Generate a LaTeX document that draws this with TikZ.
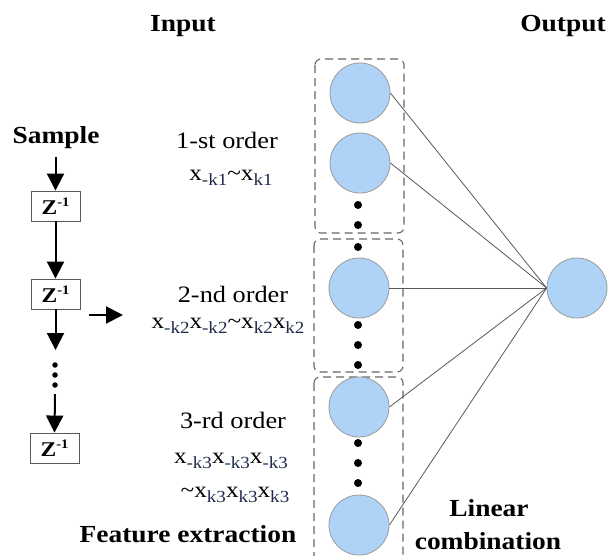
\documentclass[tikz,border=0pt]{standalone}
\usepackage{fontspec}
\setmainfont{Liberation Serif}[FakeStretch=1.12]
\usetikzlibrary{arrows.meta}
\definecolor{nodefill}{HTML}{AED3F7}
\definecolor{nodeline}{HTML}{9A9A9A}
\definecolor{subc}{HTML}{1E2A4A}
\newcommand\mysb[1]{\raisebox{-5pt}{\fontsize{17}{17}\selectfont\color{subc}#1}}
\newcommand\myzinv{\textbf{Z}\raisebox{8pt}{\fontsize{13}{13}\selectfont\bfseries -1}}
\begin{document}
\begin{tikzpicture}[x=1pt,y=-1pt,
  lbl/.style={font=\fontsize{23.5}{27}\selectfont, anchor=base, inner sep=0pt},
  blbl/.style={font=\fontsize{24.5}{28}\selectfont\bfseries, anchor=base, inner sep=0pt},
  formula/.style={font=\fontsize{22.5}{26}\selectfont, anchor=base, inner sep=0pt},
  zbox/.style={draw=black!65, line width=0.9pt, minimum width=49pt, minimum height=30pt, inner sep=0pt, font=\fontsize{21}{23}\selectfont},
  flow/.style={line width=2pt, -{Triangle[length=17pt,width=17pt]}},
  neuron/.style={circle, fill=nodefill, draw=nodeline, line width=0.8pt, minimum size=60pt, inner sep=0pt},
  group/.style={draw=black!60, line width=1.1pt, dash pattern=on 8pt off 5pt, rounded corners=6pt},
  link/.style={draw=black!65, line width=0.8pt},
  bigdot/.style={circle, fill=black, inner sep=0pt, minimum size=8pt},
  smalldot/.style={circle, fill=black, inner sep=0pt, minimum size=5.5pt}]
\useasboundingbox (0,0) rectangle (609,555);
\clip (0,0) rectangle (609,555);

% headings
\node[blbl] (input) at (183,31) {Input};
\node[blbl] (output) at (563,31) {Output};
\node[blbl] (sample) at (56,143) {Sample};

% delay line
\node[zbox] (z1) at (55.5,206) {\myzinv};
\node[zbox] (z2) at (55.5,294) {\myzinv};
\node[zbox] (z3) at (54.5,448) {\myzinv};
\coordinate (s0) at (55.5,157);
\coordinate (s1) at (55.5,350);
\coordinate (s2) at (55,394);
\draw[flow] (s0) -- (z1.north);
\draw[flow] (z1.south) -- (z2.north);
\draw[flow] (z2.south) -- (s1);
\draw[flow] (s2) -- (z3.north);
\node[smalldot] (d1) at (55,365) {};
\node[smalldot] (d2) at (55,375) {};
\node[smalldot] (d3) at (55,385) {};
\coordinate (r0) at (89,315);
\coordinate (r1) at (123,315);
\draw[flow] (r0) -- (r1);

% feature texts
\node[lbl] (o1) at (227,148) {1-st order};
\node[formula] (f1) at (231,180) {x\mysb{-k1}\char"007E x\mysb{k1}};
\node[lbl] (o2) at (233,302) {2-nd order};
\node[formula] (f2) at (228,328) {x\mysb{-k2}x\mysb{-k2}\char"007E x\mysb{k2}x\mysb{k2}};
\node[lbl] (o3) at (233,428) {3-rd order};
\node[formula] (f3) at (231,463) {x\mysb{-k3}x\mysb{-k3}x\mysb{-k3}};
\node[formula] (f4) at (235,497) {\char"007E x\mysb{k3}x\mysb{k3}x\mysb{k3}};
\node[blbl] (fe) at (188,542) {Feature extraction};
\node[blbl] (lin) at (489,516) {Linear};
\node[blbl] (comb) at (488,549) {combination};

% groups
\draw[group] (315,59) rectangle (404,233);
\draw[group] (314,239) rectangle (403,372);
\draw[group] (314,377) rectangle (403,570);

% neurons
\node[neuron] (n1) at (360,93) {};
\node[neuron] (n2) at (360,163) {};
\node[neuron] (n3) at (359,288) {};
\node[neuron] (n4) at (359,407) {};
\node[neuron] (n5) at (359,525) {};
\node[neuron] (out) at (577,288) {};
\foreach \y [count=\i] in {205,225,247,325,345,365,443,463,483}
  \node[bigdot] (m\i) at (358,\y) {};
\foreach \n in {n1,n2,n3,n4,n5}
  \draw[link] (\n.east) -- (out.west);
\end{tikzpicture}
\end{document}
